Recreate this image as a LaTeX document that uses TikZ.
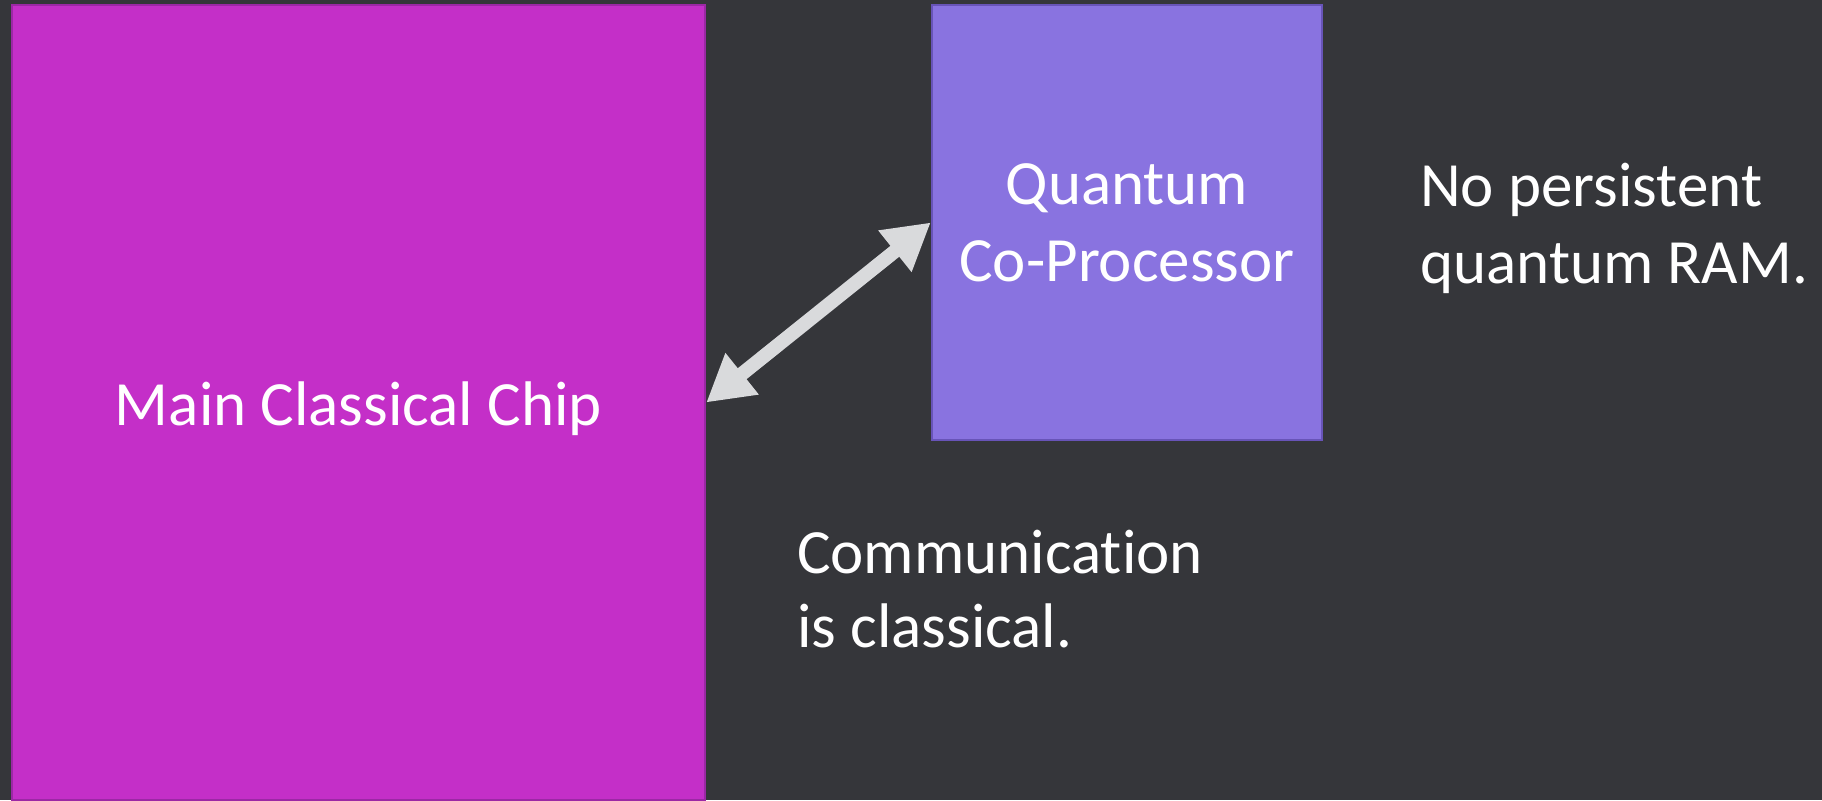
\documentclass[tikz,border=0pt]{standalone}
\usepackage{fontspec}
\setmainfont{Carlito}[Ligatures=CommonOff]
\usetikzlibrary{arrows.meta}

\definecolor{bgdark}{RGB}{53,54,58}
\definecolor{chipfill}{RGB}{196,47,200}
\definecolor{chipline}{RGB}{156,40,165}
\definecolor{qfill}{RGB}{137,115,224}
\definecolor{qline}{RGB}{104,84,184}
\definecolor{arrowgray}{RGB}{217,218,220}

\tikzset{
  bigtext/.style={font=\fontsize{63}{77}\selectfont, text=white},
  chipbox/.style={bigtext, rectangle, fill=chipfill, draw=chipline, line width=2.5pt, inner sep=0pt},
  qbox/.style={bigtext, rectangle, fill=qfill, draw=qline, line width=2.5pt, inner sep=0pt, align=center},
  note/.style={bigtext, inner sep=0pt, align=left},
  linkarrow/.style={draw=arrowgray, line width=14pt,
    {Triangle[length=46pt,width=50pt]}-{Triangle[length=46pt,width=50pt]}}
}

\begin{document}
\begin{tikzpicture}[x=1pt, y=-1pt]
  % page and background
  \fill[bgdark] (0,0) rectangle (1822,800);
  \useasboundingbox (0,0) rectangle (1822,800);

  % classical chip
  \node[chipbox, minimum width=693pt, minimum height=795pt,
        text height=50pt, text depth=5pt] (main) at (358.5,402.5) {Main Classical Chip};

  % quantum co-processor
  \node[qbox, minimum width=390pt, minimum height=435pt] (qpu) at (1127,222.5)
    {Quantum\\Co-Processor};

  % side notes (base anchor sits on the last line)
  \node[note, anchor=base west] (ramnote) at (1420,283) {No persistent\\quantum RAM.};
  \node[note, anchor=base west, font=\fontsize{63}{74}\selectfont] (commnote) at (797,647)
    {Communication\\is classical.};

  % classical link between the two chips
  \draw[linkarrow] (main.east) -- (qpu.west);
\end{tikzpicture}
\end{document}
